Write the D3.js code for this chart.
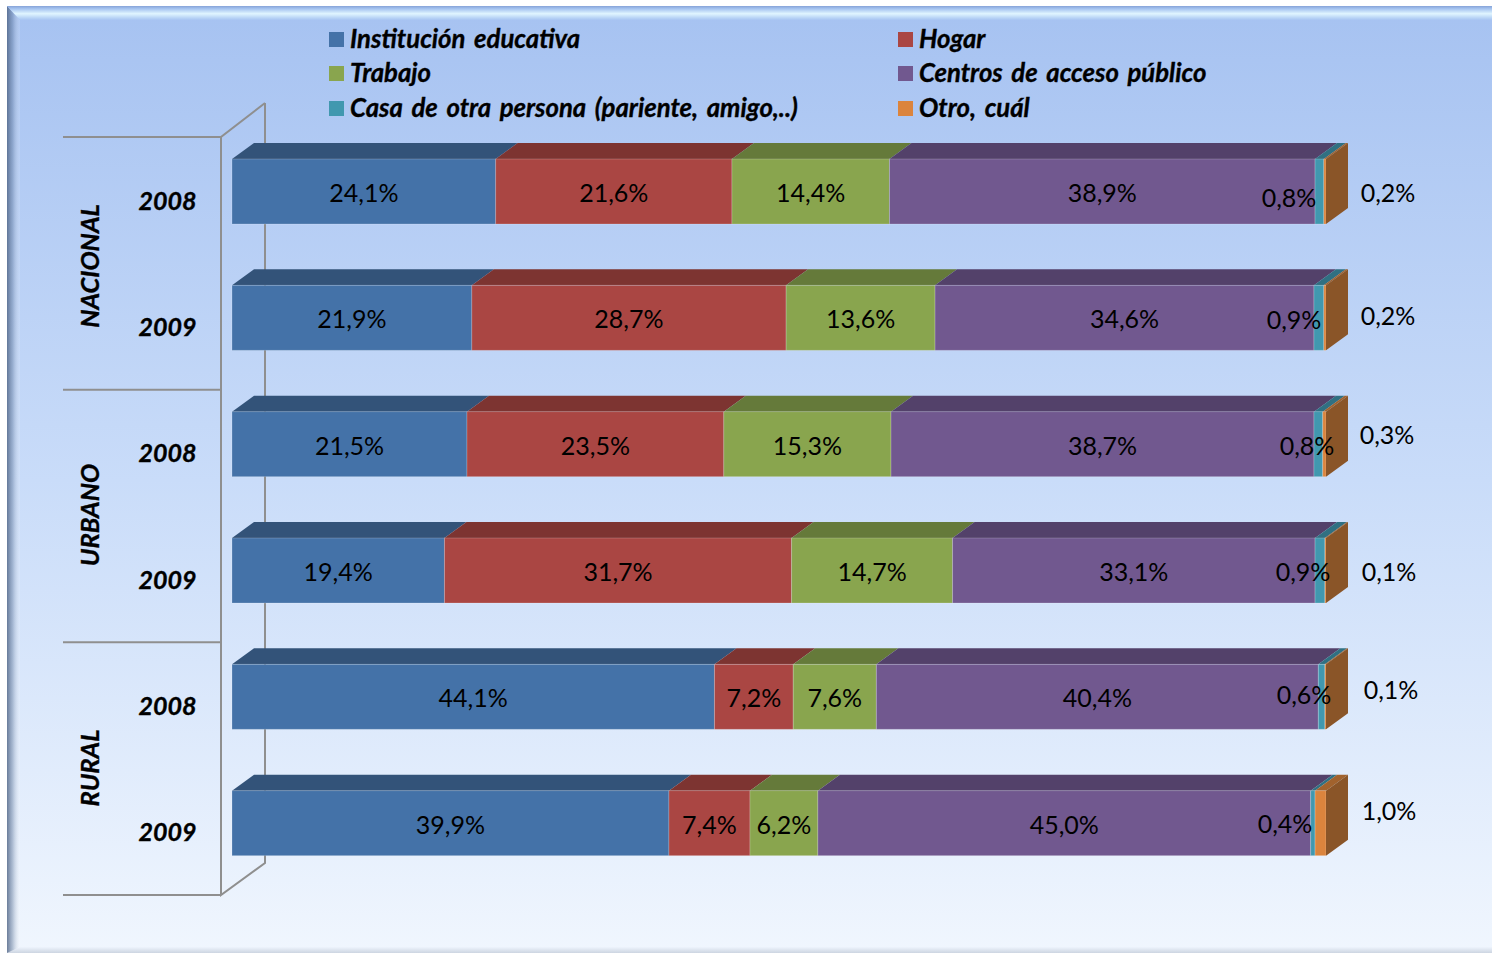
<!DOCTYPE html>
<html><head><meta charset="utf-8">
<script src="https://cdn.jsdelivr.net/npm/d3@7"></script>
<style>html,body{margin:0;padding:0;background:#fff}svg{display:block}text{font-family:Lato,"Open Sans",sans-serif;fill:#000}.bi{font-weight:700;font-style:italic;stroke:#000;stroke-width:.35}</style>
</head><body><svg id="c" width="1492" height="953"></svg>
<script>
const rows = ["N2008","N2009","U2008","U2009","R2008","R2009"];
const years = ["2008","2009","2008","2009","2008","2009"];
const groups = ["NACIONAL","URBANO","RURAL"];
const series = ["Institución educativa","Hogar","Trabajo","Centros de acceso público","Casa de otra persona (pariente, amigo,..)","Otro, cuál"];
const institucion = [24.1,21.9,21.5,19.4,44.1,39.9];
const hogar = [21.6,28.7,23.5,31.7,7.2,7.4];
const trabajo = [14.4,13.6,15.3,14.7,7.6,6.2];
const centros = [38.9,34.6,38.7,33.1,40.4,45.0];
const casa = [0.8,0.9,0.8,0.9,0.6,0.4];
const otro = [0.2,0.2,0.3,0.1,0.1,1.0];
const seriesValues = [institucion,hogar,trabajo,centros,casa,otro];

// layout and style
const frontCol = ["#4472a8","#aa4643","#89a54e","#71588f","#4198af","#db843d"];
const topCol = ["#335379","#7d3431","#657a3a","#53416a","#307082","#a1622d"];
const capCol = "#8a5528";
const depth = {x:22,y:16};
const barTop = 22, barH = 65;
const casaLabelX = [1289,1294,1307,1303,1304,1285];
const casaLabelY = [198,320,446,572,695,824];
const otroLabelX = [1388,1388,1387,1389,1391,1389];
const otroLabelY = [193,316,435,572,690,811];

const svg = d3.select("#c");
const defs = svg.append("defs");
function grad(id,vertical,stops){
  const g = defs.append("linearGradient").attr("id",id).attr("x1",0).attr("y1",0).attr("x2",vertical?0:1).attr("y2",vertical?1:0);
  stops.forEach(s=>g.append("stop").attr("offset",s[0]).attr("stop-color",s[1]).attr("stop-opacity",s[2]===undefined?1:s[2]));
}
grad("bg",true,[[0,"#a6c2f1"],[0.5,"#c9dcf9"],[1,"#f0f6fe"]]);
grad("lb",false,[[0,"#4a5f80",0.8],[0.45,"#5d7598",0.4],[1,"#ffffff",0.12]]);
grad("tb",true,[[0,"#86a3d8"],[0.2,"#a6c4f0"],[0.55,"#e0f5ff"],[0.85,"#b8d4f6"],[1,"#a8c4f2"]]);
grad("bb",true,[[0,"#eef4fd"],[1,"#cdd5e1"]]);

const F = {x0:7,y0:6,x1:1492,y1:953,bl:13,bt:14,bb:6};
svg.append("rect").attr("x",F.x0).attr("y",F.y0).attr("width",F.x1-F.x0).attr("height",F.y1-F.y0).attr("fill","url(#bg)");
svg.append("path").attr("d",`M${F.x0},${F.y1}L${F.x0+F.bl},${F.y1-F.bb}H${F.x1}V${F.y1}Z`).attr("fill","url(#bb)");
svg.append("path").attr("d",`M${F.x0},${F.y0}L${F.x0+F.bl},${F.y0+F.bt}V${F.y1-F.bb}L${F.x0},${F.y1}Z`).attr("fill","url(#lb)");
svg.append("path").attr("d",`M${F.x0},${F.y0}H${F.x1}V${F.y0+F.bt}H${F.x0+F.bl}Z`).attr("fill","url(#tb)");

const x = d3.scaleLinear().domain([0,1]).range([232,1326]);
const y = d3.scaleBand().domain(rows).range([137,895]);
const table = rows.map((r,i)=>{const o={row:r};series.forEach((s,j)=>o[s]=seriesValues[j][i]);return o;});
const stacked = d3.stack().keys(series).offset(d3.stackOffsetExpand)(table);

// walls
const wall = svg.append("g").attr("stroke","#8f8f8f").attr("fill","none");
const wx = 221, wy0 = 137, wy1 = 895;
wall.append("path").attr("stroke-width",2).attr("d",`M${wx+depth.x*2},${wy0-34}V${wy1-32}L${wx},${wy1}V${wy0}L${wx+depth.x*2},${wy0-34}`);
const seps = [y(rows[0]),y(rows[2]),y(rows[4]),wy1];
wall.selectAll("line").data(seps).join("line").attr("stroke-width",2).attr("x1",63).attr("x2",wx).attr("y1",d=>d).attr("y2",d=>d);

// bars
const bars = svg.append("g");
stacked.forEach((s,j)=>{
  const g = bars.append("g");
  g.selectAll("path.top").data(s).join("path").attr("class","top").attr("fill",topCol[j])
    .attr("d",d=>{const yy=y(d.data.row)+barTop,a=x(d[0]),b=x(d[1]);
      return `M${a},${yy}L${a+depth.x},${yy-depth.y}H${b+depth.x}L${b},${yy}Z`;});
  g.selectAll("rect").data(s).join("rect").attr("fill",frontCol[j])
    .attr("stroke","#ffffff").attr("stroke-opacity",0.2).attr("stroke-width",1)
    .attr("x",d=>x(d[0])).attr("y",d=>y(d.data.row)+barTop)
    .attr("width",d=>x(d[1])-x(d[0])).attr("height",barH);
});
bars.append("g").selectAll("path").data(rows).join("path").attr("fill",capCol)
  .attr("d",r=>{const yy=y(r)+barTop,a=x(1);return `M${a},${yy}L${a+depth.x},${yy-depth.y}V${yy+barH-depth.y}L${a},${yy+barH}Z`;});

// bar labels
const fmt = v=>v.toFixed(1).replace(".",",")+"%";
const labels = svg.append("g").attr("font-size",25).attr("text-anchor","middle");
stacked.slice(0,4).forEach((s,j)=>{
  labels.append("g").selectAll("text").data(s).join("text")
    .attr("x",d=>(x(d[0])+x(d[1]))/2).attr("y",d=>y(d.data.row)+barTop+barH/2+10.5)
    .text((d,i)=>fmt(seriesValues[j][i]));
});
labels.append("g").selectAll("text").data(casa).join("text")
  .attr("x",(d,i)=>casaLabelX[i]).attr("y",(d,i)=>casaLabelY[i]+9).text(fmt);
labels.append("g").selectAll("text").data(otro).join("text")
  .attr("x",(d,i)=>otroLabelX[i]).attr("y",(d,i)=>otroLabelY[i]+9).text(fmt);

// year axis
const axis = d3.axisLeft(y).tickSize(0).tickPadding(0).tickFormat((d,i)=>years[i]);
const ag = svg.append("g").attr("transform","translate(196.5,1.5)").call(axis);
ag.select(".domain").remove();
ag.selectAll("text").attr("class","bi").attr("font-size",25).attr("fill","#000")
  .style("font-family",'Lato,"Open Sans",sans-serif');

// group labels
const groupY = [266,515,768];
svg.append("g").selectAll("text").data(groups).join("text").attr("class","bi")
  .attr("transform",(d,i)=>`translate(99,${groupY[i]}) rotate(-90)`)
  .attr("text-anchor","middle").attr("font-size",25.5).text(d=>d);

// legend
const legX = [329,898], legY=[39.5,73.5,108.5];
const leg = svg.append("g").selectAll("g").data(series).join("g")
  .attr("transform",(d,i)=>`translate(${legX[i%2]},${legY[Math.floor(i/2)]})`);
leg.append("rect").attr("y",-7.5).attr("width",15).attr("height",15).attr("fill",(d,i)=>frontCol[i]);
leg.append("text").attr("class","bi").attr("x",21).attr("y",8).attr("font-size",25.7).style("word-spacing","3px").text(d=>d);
</script></body></html>
